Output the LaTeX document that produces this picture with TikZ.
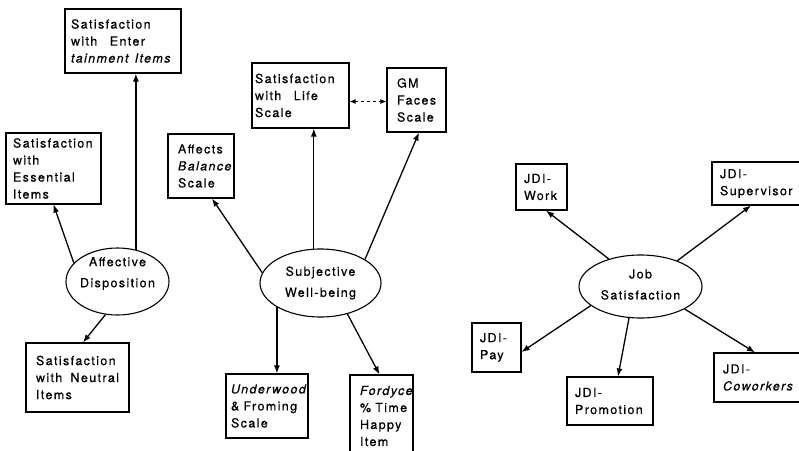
\documentclass[tikz,border=0pt]{standalone}
\usepackage{fontspec}
\setmainfont{TeX Gyre Heros}[LetterSpace=11, FakeBold=0.5]
\usetikzlibrary{arrows.meta,shapes.geometric}
\begin{document}
\begin{tikzpicture}[x=1pt,y=-1pt,
  box/.style={draw, line width=1.1pt, inner ysep=0pt, align=left, font=\fontsize{12.5}{17}\selectfont},
  ell/.style={draw, ellipse, line width=1.1pt, inner sep=0pt},
  lbl/.style={align=center, font=\fontsize{12.5}{21}\selectfont, inner sep=0pt},
  arr/.style={line width=1.3pt, -{Latex[length=8pt,width=6pt]}},
  darr/.style={line width=1pt, dashed, {Latex[length=6pt,width=5pt]}-{Latex[length=6pt,width=5pt]}}
  ]
\useasboundingbox (0,0) rectangle (799,450);

% left group
\node[box, minimum height=64, inner xsep=6, text width=104] (ent) at (123,41)
  {Satisfaction\\\mbox{with\quad Enter}\\\mbox{\textit{tainment\enspace Items}}};
\node[box, minimum height=71, inner xsep=7, text width=81] (ess) at (53.5,168.5)
  {Satisfaction\\with\\Essential\\Items};
\node[box, minimum height=69, inner xsep=10, text width=83] (neu) at (77.5,377.5)
  {Satisfaction\\with\hfill Neutral\hspace*{-8pt}\\Items};
\node[ell, minimum width=103, minimum height=67,
  label={[lbl,yshift=8pt]center:{Affective\\Disposition}}] (aff) at (117.5,281.5) {};

% middle group
\node[box, minimum height=64, inner xsep=10, text width=46] (afb) at (201,166)
  {Affects\\\textit{Balance}\\Scale};
\node[box, minimum height=65, inner xsep=3, text width=91] (life) at (300.5,95.5)
  {Satisfaction\\\mbox{with\quad Life}\\Scale};
\node[box, minimum height=64, inner xsep=10, text width=39] (gm) at (416.5,100)
  {GM\\Faces\\Scale};
\node[box, minimum height=64, inner xsep=5, text width=72] (und) at (267,406)
  {\textit{Underwood}\\\mbox{\& Froming}\\Scale};
\node[box, minimum height=82, inner xsep=10, text width=43] (ford) at (381.5,416)
  {\textit{Fordyce}\\\mbox{\% Time}\\Happy\\Item};
\node[ell, minimum width=121, minimum height=68,
  label={[lbl]center:{Subjective\\Well-being}}] (subj) at (320.5,283) {};

% right group
\node[box, minimum height=46, inner xsep=8, text width=35] (work) at (541.5,187)
  {JDI-\\Work};
\node[box, minimum height=43, inner xsep=8, text width=77] (sup) at (758.5,183.5)
  {JDI-\\Supervisor};
\node[box, minimum height=49, inner xsep=8, text width=33] (pay) at (496.5,347.5)
  {JDI-\\Pay};
\node[box, minimum height=48, inner xsep=8, text width=70] (promo) at (610,401)
  {JDI-\\Promotion};
\node[box, minimum height=49, inner xsep=9, text width=78] (cow) at (762,377.5)
  {JDI-\\\textit{Coworkers}};
\node[ell, minimum width=123, minimum height=63,
  label={[lbl,yshift=2pt]center:{Job\\Satisfaction}}] (job) at (640.5,286.5) {};

% connectors
\draw[arr] (aff.60) -- (aff.60 |- ent.south);
\draw[arr] (aff.157) -- (ess.south);
\draw[arr] (aff.250) -- ([xshift=5.5pt]neu.north);

\draw[arr] (subj.170) -- ([xshift=11pt]afb.south);
\draw[arr] (subj.101) -- (subj.101 |- life.south);
\draw[arr] (subj.28) -- ([xshift=2.5pt]gm.south);
\draw[arr] (subj.209) -- (subj.209 |- und.north);
\draw[arr] (subj.311) -- ([xshift=-2pt]ford.north);
\coordinate (lifeR) at ([yshift=-6pt]life.east);
\draw[darr] (lifeR) -- (lifeR -| gm.west);

\draw[arr] (job.139.5) -- ([xshift=4.5pt]work.south);
\draw[arr] (job.35) -- ([xshift=-7.5pt]sup.south);
\draw[arr] (job.201) -- ([yshift=-4.5pt]pay.east);
\draw[arr] (job.250) -- ([xshift=8pt]promo.north);
\draw[arr] (job.333) -- ([xshift=-7pt]cow.north);
\end{tikzpicture}
\end{document}
